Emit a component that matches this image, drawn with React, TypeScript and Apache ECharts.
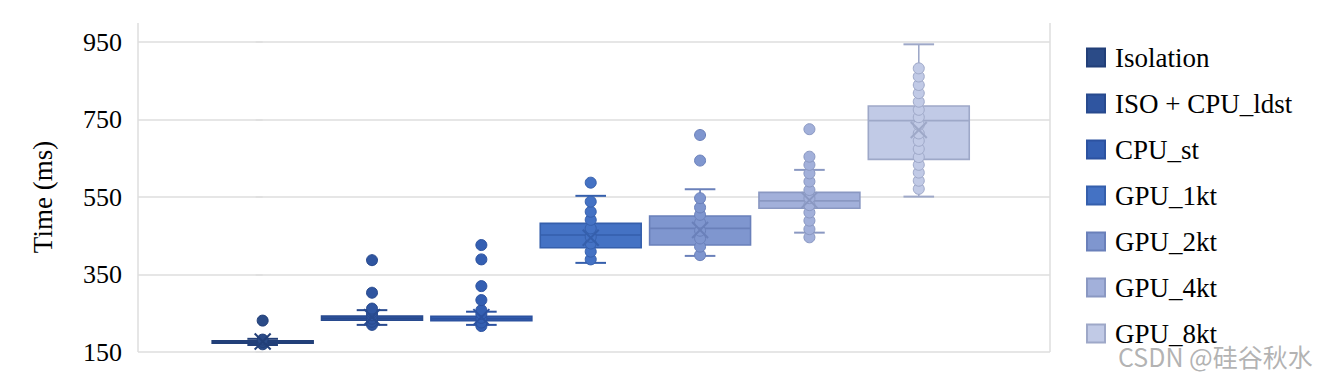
import React, { useEffect, useRef } from "react";
import * as echarts from "echarts";

const categories = ["Isolation", "ISO + CPU_ldst", "CPU_st", "GPU_1kt", "GPU_2kt", "GPU_4kt", "GPU_8kt"];
const whiskerLow = [168, 220, 220, 380, 398, 458, 551];
const q1 = [173, 232, 231, 419, 426, 521, 647];
const median = [176, 237, 236, 452, 469, 540, 747];
const q3 = [179, 243, 242, 482, 501, 562, 785];
const whiskerHigh = [184, 258, 254, 553, 570, 620, 944];
const means = [177, 240, 240, 445, 465, 542, 723];
const points: number[][] = [
  [170, 176, 182, 231],
  [220, 228, 236, 245, 252, 262, 303, 387],
  [217, 226, 238, 248, 258, 284, 320, 389, 426],
  [389, 409, 430, 447, 469, 491, 512, 538, 587],
  [400, 422, 443, 463, 484, 504, 523, 547, 644, 710],
  [446, 467, 489, 510, 529, 547, 568, 590, 611, 633, 654, 725],
  [571, 592, 613, 633, 653, 674, 695, 714, 736, 756, 775, 796, 818, 839, 861, 882],
];
const yTicks = [150, 350, 550, 750, 950];

const fills = ["#2b4b87", "#2f55a0", "#345fb2", "#4472c4", "#7f96cf", "#a2b0da", "#c1cae6"];
const edges = ["#223f78", "#284a8e", "#2c52a0", "#355fac", "#6a80ba", "#8a98c2", "#9ea8c8"];

const SERIF = "'Liberation Serif', 'DejaVu Serif', serif";
const BOX_W = 0.923;
const CAP_W = 0.28;

export default function App() {
  const ref = useRef<HTMLDivElement>(null);
  useEffect(() => {
    if (!ref.current) return;
    const chart = echarts.init(ref.current, undefined, { renderer: "svg" });
    const series: any[] = [];
    categories.forEach((name, i) => {
      const fill = fills[i];
      const edge = edges[i];
      series.push({
        name,
        type: "custom",
        z: 2,
        itemStyle: { color: fill, borderColor: edge, borderWidth: 1 },
        encode: { x: 0, y: [1, 2, 3, 4, 5] },
        data: [[i, whiskerLow[i], q1[i], median[i], q3[i], whiskerHigh[i]]],
        renderItem: (params: any, api: any) => {
          const x = api.value(0);
          const lo = api.coord([x, api.value(1)]);
          const b1 = api.coord([x, api.value(2)]);
          const md = api.coord([x, api.value(3)]);
          const b3 = api.coord([x, api.value(4)]);
          const hi = api.coord([x, api.value(5)]);
          const bw = api.size([BOX_W, 0])[0];
          const cw = api.size([CAP_W, 0])[0];
          const cx = lo[0];
          const ls = { stroke: edge, lineWidth: 1.6 };
          return {
            type: "group",
            children: [
              { type: "line", shape: { x1: cx, y1: lo[1], x2: cx, y2: b1[1] }, style: ls },
              { type: "line", shape: { x1: cx, y1: hi[1], x2: cx, y2: b3[1] }, style: ls },
              { type: "line", shape: { x1: cx - cw / 2, y1: lo[1], x2: cx + cw / 2, y2: lo[1] }, style: { stroke: edge, lineWidth: 2 } },
              { type: "line", shape: { x1: cx - cw / 2, y1: hi[1], x2: cx + cw / 2, y2: hi[1] }, style: { stroke: edge, lineWidth: 2 } },
              {
                type: "rect",
                shape: { x: cx - bw / 2, y: b3[1], width: bw, height: Math.max(b1[1] - b3[1], 1) },
                style: { fill, stroke: edge, lineWidth: 1.6 },
              },
              { type: "line", shape: { x1: cx - bw / 2, y1: md[1], x2: cx + bw / 2, y2: md[1] }, style: ls },
            ],
          };
        },
      });
      series.push({
        name: name + " points",
        type: "scatter",
        z: 3,
        symbol: "circle",
        symbolSize: 11,
        itemStyle: { color: fill, borderColor: edge, borderWidth: 1, opacity: 1 },
        data: points[i].map((v) => [i, v]),
      });
      series.push({
        name: name + " mean",
        type: "custom",
        z: 4,
        data: [[i, means[i]]],
        encode: { x: 0, y: 1 },
        renderItem: (params: any, api: any) => {
          const p = api.coord([api.value(0), api.value(1)]);
          const h = 8;
          const st = { stroke: edge, lineWidth: 2 };
          return {
            type: "group",
            children: [
              { type: "line", shape: { x1: p[0] - h, y1: p[1] - h, x2: p[0] + h, y2: p[1] + h }, style: st },
              { type: "line", shape: { x1: p[0] - h, y1: p[1] + h, x2: p[0] + h, y2: p[1] - h }, style: st },
            ],
          };
        },
      });
    });

    chart.setOption({
      animation: false,
      backgroundColor: "#ffffff",
      grid: { left: 138, right: 270, top: 42, bottom: 26 },
      xAxis: { type: "value", min: -1.14, max: 7.2, show: false },
      yAxis: {
        type: "value",
        min: yTicks[0],
        max: yTicks[yTicks.length - 1],
        interval: 200,
        name: "Time (ms)",
        nameLocation: "middle",
        nameGap: 82,
        nameTextStyle: { fontFamily: SERIF, fontSize: 27, color: "#000" },
        axisLine: { show: false },
        axisTick: { show: true, length: 7, lineStyle: { color: "#dedede", width: 1.5 } },
        axisLabel: { margin: 16, fontFamily: SERIF, fontSize: 26, color: "#000" },
        splitLine: { show: true, lineStyle: { color: "#dedede", width: 1.5 } },
      },
      legend: {
        data: categories,
        orient: "vertical",
        left: 1081,
        top: 39,
        itemWidth: 18,
        itemHeight: 18,
        itemGap: 19,
        icon: "rect",
        textStyle: { fontFamily: SERIF, fontSize: 27, color: "#000", lineHeight: 27, padding: [0, 0, 0, 5] },
      },
      graphic: [
        { type: "line", shape: { x1: 138, y1: 23, x2: 138, y2: 352 }, style: { stroke: "#dedede", lineWidth: 1.5 }, z: 1 },
        { type: "line", shape: { x1: 1050, y1: 23, x2: 1050, y2: 352 }, style: { stroke: "#dedede", lineWidth: 1.5 }, z: 1 },
        {
          type: "text",
          left: 1118,
          top: 343,
          z: 10,
          style: {
            text: "CSDN @硅谷秋水",
            fontFamily: "'Noto Sans CJK SC', sans-serif",
            fontSize: 25,
            fill: "rgba(165,165,165,0.85)",
          },
        },
      ],
      series,
    });
    return () => chart.dispose();
  }, []);
  return <div ref={ref} style={{ width: 1320, height: 378, position: "absolute", left: 0, top: 0 }} />;
}
